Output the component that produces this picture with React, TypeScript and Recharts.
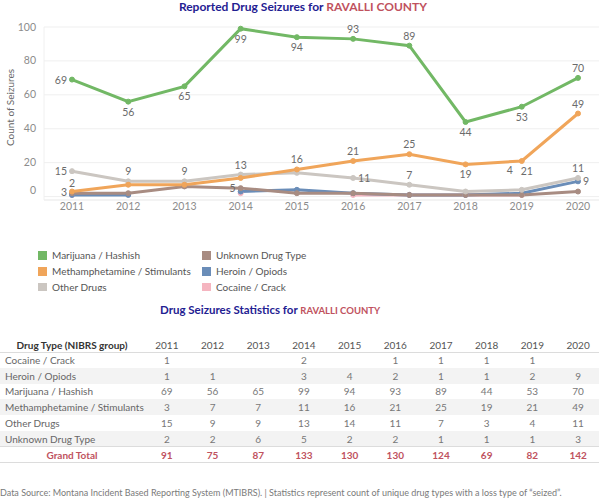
import { LineChart, Line, XAxis, YAxis, CartesianGrid, Legend, LabelList } from 'recharts';

const FONT = 'Lato, "Open Sans", sans-serif';

const years = [2011, 2012, 2013, 2014, 2015, 2016, 2017, 2018, 2019, 2020];
const cocaine = [1, null, null, 2, null, 1, 1, 1, 1, null];
const heroin = [1, 1, null, 3, 4, 2, 1, 1, 2, 9];
const marijuana = [69, 56, 65, 99, 94, 93, 89, 44, 53, 70];
const meth = [3, 7, 7, 11, 16, 21, 25, 19, 21, 49];
const otherDrugs = [15, 9, 9, 13, 14, 11, 7, 3, 4, 11];
const unknown = [2, 2, 6, 5, 2, 2, 1, 1, 1, 3];
const grandTotal = [91, 75, 87, 133, 130, 130, 124, 69, 82, 142];
const yTicks = [0, 20, 40, 60, 80, 100];

type Pos = 'top' | 'bottom' | 'left' | 'right' | 'topleft' | 'bottomright' | null;

// which points carry a value label, and where
const series: { key: string; name: string; color: string; values: (number | null)[]; labels: Pos[] }[] = [
    { key: 'cocaine', name: 'Cocaine / Crack', color: '#f5b5c0', values: cocaine, labels: [null, null, null, null, null, null, null, null, null, null] },
    { key: 'heroin', name: 'Heroin / Opiods', color: '#6a8db8', values: heroin, labels: [null, null, null, null, null, null, null, null, null, 'right'] },
    { key: 'unknown', name: 'Unknown Drug Type', color: '#a88c82', values: unknown, labels: ['top', null, null, 'left', null, null, null, null, null, null] },
    { key: 'other', name: 'Other Drugs', color: '#cbc6c1', values: otherDrugs, labels: ['left', 'top', 'top', 'top', null, 'right', 'top', null, 'topleft', 'top'] },
    { key: 'meth', name: 'Methamphetamine / Stimulants', color: '#f0a55a', values: meth, labels: ['left', null, null, null, 'top', 'top', 'top', 'bottom', 'bottomright', 'top'] },
    { key: 'marijuana', name: 'Marijuana / Hashish', color: '#72b865', values: marijuana, labels: ['left', 'bottom', 'bottom', 'bottom', 'bottom', 'top', 'top', 'bottom', 'bottom', 'top'] },
];

const legendOrder = [
    ['Marijuana / Hashish', '#72b865'], ['Unknown Drug Type', '#a88c82'],
    ['Methamphetamine / Stimulants', '#f0a55a'], ['Heroin / Opiods', '#6a8db8'],
    ['Other Drugs', '#cbc6c1'], ['Cocaine / Crack', '#f5b5c0'],
];

const tableRows: [string, (number | null)[]][] = [
    ['Cocaine / Crack', cocaine],
    ['Heroin / Opiods', heroin],
    ['Marijuana / Hashish', marijuana],
    ['Methamphetamine / Stimulants', meth],
    ['Other Drugs', otherDrugs],
    ['Unknown Drug Type', unknown],
];

const chartData = years.map((year, i) => {
    const row: any = { year };
    series.forEach(s => { row[s.key] = s.values[i]; });
    return row;
});

const NAVY = '#1f2192';
const RED = '#c0525e';

function YTick(props: any) {
    const { x, y, payload } = props;
    const shift = payload.value === 0 ? -6 : 0;
    return (
        <text x={x} y={y + shift} dy={3.5} textAnchor="end" fill="#8c8c8c" fontSize={10.5} fontFamily={FONT}>
            {payload.value}
        </text>
    );
}

function makeLabel(labels: Pos[]) {
    return (props: any) => {
        const { x, y, value, index } = props;
        const pos = labels[index];
        if (!pos || value == null) return null;
        let dx = 0;
        let dy = 0;
        let anchor: 'middle' | 'end' | 'start' = 'middle';
        if (pos === 'top') dy = -6;
        if (pos === 'bottom') dy = 14;
        if (pos === 'left') { dx = -5; dy = 4; anchor = 'end'; }
        if (pos === 'right') { dx = 5; dy = 4; anchor = 'start'; }
        if (pos === 'topleft') { dx = -12; dy = -16; }
        if (pos === 'bottomright') { dx = 5; dy = 14; }
        return (
            <text x={x + dx} y={y + dy} textAnchor={anchor} fill="#6b6b6b" fontSize={10.5} fontFamily={FONT}>
                {value}
            </text>
        );
    };
}

function LegendGrid() {
    return (
        <div style={{ display: 'grid', gridTemplateColumns: '164px 200px', rowGap: 6, fontFamily: FONT, fontSize: 10, color: '#555' }}>
            {legendOrder.map(([name, color]) => (
                <div key={name} style={{ display: 'flex', alignItems: 'center', height: 10 }}>
                    <span style={{ width: 9, height: 9, background: color, marginRight: 5, display: 'inline-block' }} />
                    {name}
                </div>
            ))}
        </div>
    );
}

const cellNum: any = { textAlign: 'center', padding: 0 };

export default function App() {
    return (
        <div style={{ position: 'absolute', left: 0, top: 0, width: 599, height: 499, background: '#fff', overflow: 'hidden', fontFamily: FONT }}>
            <div style={{ position: 'absolute', top: -1, left: 0, width: 606, textAlign: 'center', fontSize: 12, fontWeight: 700, lineHeight: '15px', color: NAVY }}>
                Reported Drug Seizures for <span style={{ color: RED }}>RAVALLI COUNTY</span>
            </div>

            <div style={{ position: 'absolute', top: 0, left: 0, width: 599, height: 291, overflow: 'hidden' }}>
                <LineChart width={599} height={300} data={chartData} margin={{ top: 27, right: 0, bottom: 80, left: 0 }}>
                    <CartesianGrid vertical={false} stroke="#efefef" />
                    <XAxis
                        dataKey="year"
                        type="number"
                        domain={[2011, 2020]}
                        ticks={years}
                        padding={{ left: 28, right: 21 }}
                        height={20}
                        tickLine={false}
                        tickSize={3}
                        tickMargin={0}
                        axisLine={{ stroke: '#efefef' }}
                        tick={{ fill: '#8c8c8c', fontSize: 10.5, fontFamily: FONT }}
                    />
                    <YAxis
                        width={44}
                        domain={[-2, 100]}
                        ticks={yTicks}
                        tickLine={false}
                        axisLine={{ stroke: '#f0f0f0' }}
                        tick={<YTick />}
                        label={{ value: 'Count of Seizures', angle: -90, position: 'insideLeft', offset: 10, dy: -6, style: { fill: '#666', fontSize: 10, fontFamily: FONT, textAnchor: 'middle' } }}
                    />
                    <Legend
                        layout="horizontal"
                        verticalAlign="middle"
                        align="center"
                        wrapperStyle={{ top: 250, left: 38, width: 400 }}
                        content={() => <LegendGrid />}
                    />
                    {series.map(s => (
                        <Line
                            key={s.key}
                            dataKey={s.key}
                            name={s.name}
                            stroke={s.color}
                            strokeWidth={3}
                            dot={{ r: 2.5, fill: s.color, stroke: s.color, strokeWidth: 1 }}
                            activeDot={false}
                            connectNulls={false}
                            isAnimationActive={false}
                        >
                            <LabelList dataKey={s.key} content={makeLabel(s.labels)} />
                        </Line>
                    ))}
                </LineChart>
            </div>

            <div style={{ position: 'absolute', top: 302, left: 160, whiteSpace: 'nowrap', fontSize: 11.5, fontWeight: 700, color: NAVY, lineHeight: '16px' }}>
                Drug Seizures Statistics for <span style={{ color: RED, fontSize: 9.5 }}>RAVALLI COUNTY</span>
            </div>

            <table style={{ position: 'absolute', top: 338, left: 0, width: 601, borderCollapse: 'collapse', tableLayout: 'fixed', fontSize: 10, color: '#777' }}>
                <colgroup>
                    <col style={{ width: 144 }} />
                    {years.map(y => <col key={y} style={{ width: 45.7 }} />)}
                </colgroup>
                <thead>
                    <tr style={{ height: 14, borderBottom: '1px solid #dcdcdc' }}>
                        <th style={{ textAlign: 'center', padding: 0, color: '#333', fontWeight: 700 }}>Drug Type (NIBRS group)</th>
                        {years.map(y => <th key={y} style={{ ...cellNum, fontWeight: 400, color: '#555' }}>{y}</th>)}
                    </tr>
                </thead>
                <tbody>
                    {tableRows.map(([name, vals], r) => (
                        <tr key={name} style={{ height: 15.8, background: r % 2 === 1 ? '#f3f3f3' : '#fff' }}>
                            <td style={{ padding: '0 0 0 5px', whiteSpace: 'nowrap', color: '#666' }}>{name}</td>
                            {vals.map((v, i) => <td key={i} style={cellNum}>{v ?? ''}</td>)}
                        </tr>
                    ))}
                    <tr style={{ height: 15.8, borderTop: '1px solid #dcdcdc', borderBottom: '1px solid #dcdcdc', color: RED, fontWeight: 700 }}>
                        <td style={{ textAlign: 'center', padding: 0 }}>Grand Total</td>
                        {grandTotal.map((v, i) => <td key={i} style={cellNum}>{v}</td>)}
                    </tr>
                </tbody>
            </table>

            <div style={{ position: 'absolute', top: 487, left: 0, whiteSpace: 'nowrap', fontSize: 9, color: '#7a7a7a', lineHeight: '11px' }}>
                Data Source: Montana Incident Based Reporting System (MTIBRS). | Statistics represent count of unique drug types with a loss type of “seized”.
            </div>
        </div>
    );
}
